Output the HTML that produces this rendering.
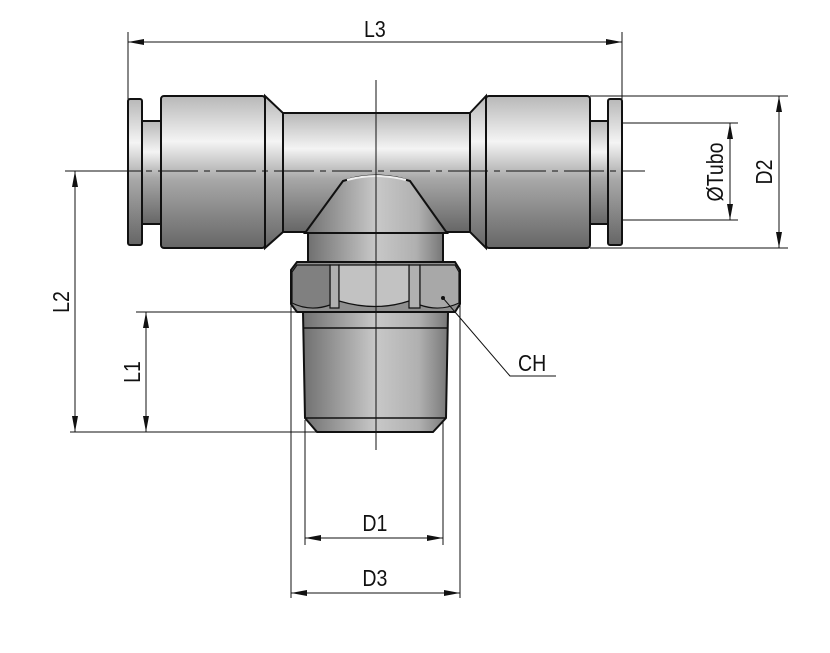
<!DOCTYPE html>
<html><head><meta charset="utf-8"><style>
html,body{margin:0;padding:0;background:#fff;}
svg{display:block}
text{font-family:"Liberation Sans",sans-serif;font-size:21px;fill:#111}
</style></head><body>
<svg width="830" height="653" viewBox="0 0 830 653" xmlns="http://www.w3.org/2000/svg">
<defs>
<linearGradient id="cyl" x1="0" y1="0" x2="0" y2="1">
<stop offset="0" stop-color="#b8b8b8"/><stop offset="0.3" stop-color="#f4f4f4"/><stop offset="0.55" stop-color="#a8a8a8"/><stop offset="1" stop-color="#666"/>
</linearGradient>
<linearGradient id="hor" x1="0" y1="0" x2="1" y2="0">
<stop offset="0" stop-color="#707070"/><stop offset="0.5" stop-color="#c8c8c8"/><stop offset="0.8" stop-color="#b0b0b0"/><stop offset="1" stop-color="#777"/>
</linearGradient>
<marker id="a" viewBox="0 0 16 6" refX="16" refY="3" markerWidth="16" markerHeight="6" orient="auto-start-reverse" markerUnits="userSpaceOnUse"><path d="M0,0L16,3L0,6z" fill="#111"/></marker>
</defs>
<g stroke="#111" stroke-width="2">
<rect x="280" y="113" width="192" height="119" fill="url(#cyl)"/>
<path d="M265,96L283,113L283,232L265,248Z" fill="url(#cyl)"/>
<path d="M486,96L470,113L470,232L486,248Z" fill="url(#cyl)"/>
<rect x="161" y="96" width="104" height="152" rx="3" fill="url(#cyl)"/>
<rect x="486" y="96" width="104" height="152" rx="3" fill="url(#cyl)"/>
<rect x="142" y="121" width="19" height="103" fill="url(#cyl)"/>
<rect x="590" y="121" width="18" height="103" fill="url(#cyl)"/>
<rect x="128" y="99" width="14" height="146" rx="2" fill="url(#cyl)"/>
<rect x="608" y="99" width="14" height="146" rx="2" fill="url(#cyl)"/>
<path d="M343,181Q376,170 410,181L447,233L305,233Z" fill="url(#hor)"/>
<path d="M347,180Q376,172 406,180" fill="none" stroke="#eee" stroke-width="2"/>
<rect x="308" y="233" width="135" height="29" fill="url(#hor)"/>
<path d="M303,312L448,312L446,418L433,432L317,432L305,418Z" fill="url(#hor)"/>
<line x1="303" y1="328" x2="448" y2="328" stroke-width="1.5"/>
<line x1="305" y1="418" x2="446" y2="418" stroke-width="1.5"/>
<path d="M297,262L455,262L460,270L460,304L455,312L297,312L291,304L291,270Z" fill="#8f8f8f"/>
<path d="M330,265L339,265L339,308L330,308Z" fill="#b0b0b0" stroke-width="1.2"/>
<path d="M409,265L420,265L420,308L409,308Z" fill="#b0b0b0" stroke-width="1.2"/>
<path d="M339,265L409,265L409,301Q376,312 339,301Z" fill="#c2c2c2" stroke-width="1.2"/>
<path d="M420,265L455,265L459,272L459,303Q440,312 420,305Z" fill="#a8a8a8" stroke-width="1.2"/>
<path d="M330,265L297,265L292,272L292,303Q310,312 330,305Z" fill="#808080" stroke-width="1.2"/>
</g>
<g stroke="#111" stroke-width="1" fill="none">
<line x1="376" y1="80" x2="376" y2="450"/>
<line x1="100" y1="171" x2="645" y2="171" stroke-dasharray="40,6,6,6"/>
<line x1="128" y1="32" x2="128" y2="99"/><line x1="622" y1="32" x2="622" y2="99"/>
<line x1="128" y1="42" x2="622" y2="42" marker-start="url(#a)" marker-end="url(#a)"/>
<line x1="590" y1="96" x2="788" y2="96"/><line x1="590" y1="248" x2="788" y2="248"/>
<line x1="779" y1="96" x2="779" y2="248" marker-start="url(#a)" marker-end="url(#a)"/>
<line x1="622" y1="123" x2="738" y2="123"/><line x1="622" y1="220" x2="738" y2="220"/>
<line x1="730" y1="123" x2="730" y2="220" marker-start="url(#a)" marker-end="url(#a)"/>
<line x1="65" y1="171" x2="142" y2="171"/>
<line x1="70" y1="432" x2="317" y2="432"/>
<line x1="136" y1="312" x2="303" y2="312"/>
<line x1="75" y1="171" x2="75" y2="432" marker-start="url(#a)" marker-end="url(#a)"/>
<line x1="146" y1="312" x2="146" y2="432" marker-start="url(#a)" marker-end="url(#a)"/>
<line x1="305" y1="420" x2="305" y2="545"/><line x1="443" y1="420" x2="443" y2="545"/>
<line x1="291" y1="304" x2="291" y2="598"/><line x1="460" y1="304" x2="460" y2="598"/>
<line x1="305" y1="538" x2="443" y2="538" marker-start="url(#a)" marker-end="url(#a)"/>
<line x1="291" y1="593" x2="460" y2="593" marker-start="url(#a)" marker-end="url(#a)"/>
<polyline points="443,298 510,376 556,376"/>
</g>
<circle cx="443" cy="298" r="2" fill="#111"/>
<g transform="scale(0.85,1)">
<text x="441" y="37" text-anchor="middle" style="font-size:23px">L3</text>
<text x="441" y="531" text-anchor="middle" style="font-size:23px">D1</text>
<text x="441" y="586" text-anchor="middle" style="font-size:23px">D3</text>
<text x="626" y="371" text-anchor="middle" style="font-size:23px">CH</text>
</g>
<text transform="translate(772,172) rotate(-90) scale(0.85,1)" text-anchor="middle" style="font-size:23px">D2</text>
<text transform="translate(723,172) rotate(-90) scale(0.85,1)" text-anchor="middle" style="font-size:23px">ØTubo</text>
<text transform="translate(69,302) rotate(-90) scale(0.85,1)" text-anchor="middle" style="font-size:23px">L2</text>
<text transform="translate(140,372) rotate(-90) scale(0.85,1)" text-anchor="middle" style="font-size:23px">L1</text>
</svg>
</body></html>
